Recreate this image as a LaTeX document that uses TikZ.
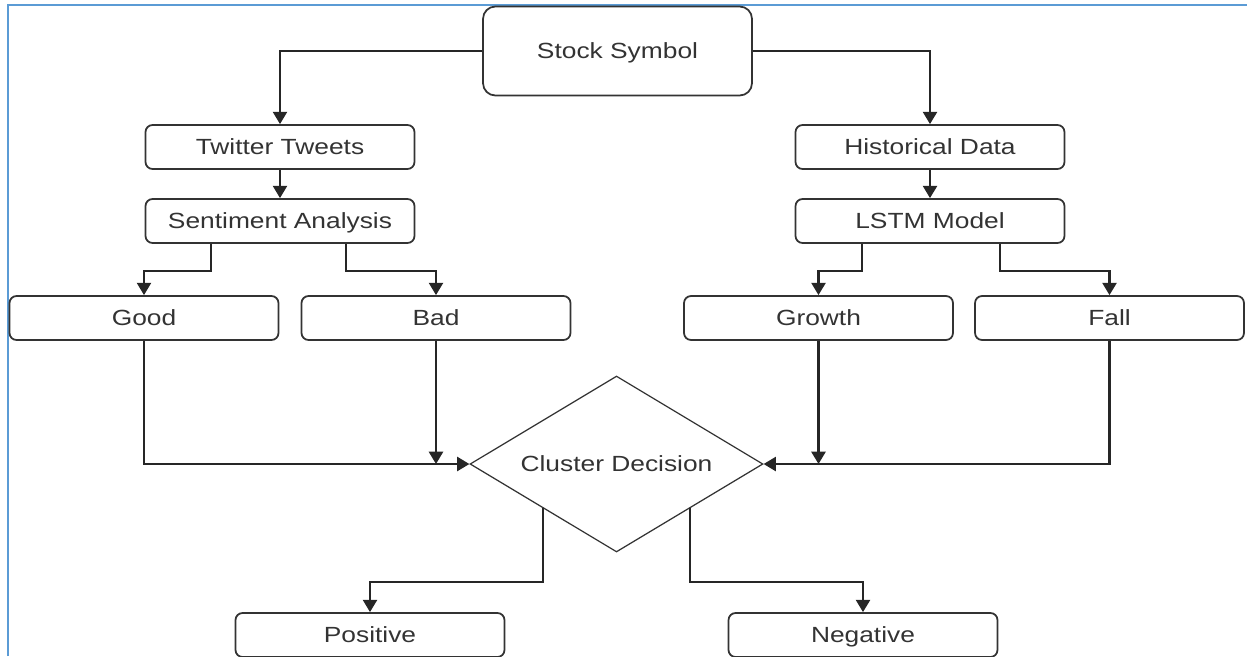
\documentclass[tikz,border=0pt]{standalone}
\usepackage{fontspec}
\setmainfont{Liberation Sans}[FakeStretch=1.2]
\usetikzlibrary{shapes.geometric,arrows.meta}
\definecolor{frameblue}{RGB}{91,155,213}
\definecolor{txtgray}{RGB}{51,51,51}

\begin{document}
\begin{tikzpicture}[x=0.02cm,y=-0.02cm,>={Triangle[length=7pt,width=8pt]},
  box/.style={draw=txtgray,line width=1pt,rounded corners=4pt,minimum width=5.38cm,
    minimum height=0.88cm,inner sep=0pt,text=txtgray,text height=9pt,text depth=0pt,
    font=\fontsize{12.5}{15}\selectfont},
  decide/.style={draw=txtgray,line width=0.7pt,diamond,aspect=1.66,minimum width=5.86cm,
    minimum height=3.52cm,inner sep=0pt,text=txtgray,text height=9pt,text depth=0pt,
    font=\fontsize{12.5}{15}\selectfont},
  link/.style={->,line width=1.3pt,black!85}]
\useasboundingbox (0,0) rectangle (1247,656);
%frame
\draw[frameblue,line width=1.6pt] (8,656) -- (8,5) -- (1247,5);

\node[box,rounded corners=7pt,minimum height=1.78cm] (sym) at (617.5,51) {Stock Symbol};
%tweets branch
\node[box] (tweets) at (280,147) {Twitter Tweets};
\node[box] (senti) at (280,221) {Sentiment Analysis};
\node[box] (good) at (144,318) {Good};
\node[box] (bad) at (436,318) {Bad};
%history branch
\node[box] (hist) at (930,147) {Historical Data};
\node[box] (lstm) at (930,221) {LSTM Model};
\node[box] (growth) at (818.5,318) {Growth};
\node[box] (fall) at (1109.5,318) {Fall};
%decision
\node[decide] (dec) at (616.5,464) {Cluster Decision};
\node[box] (pos) at (370,635) {Positive};
\node[box] (neg) at (863,635) {Negative};

\draw[link] (sym) -| (tweets);
\draw[link] (sym) -| (hist);
\draw[link] (tweets) -- (senti);
\draw[link] (hist) -- (lstm);
\draw[link] ([xshift=-1.38cm]senti.south) -- ++(0,27) -| (good.north);
\draw[link] ([xshift=1.32cm]senti.south) -- ++(0,27) -| (bad.north);
\draw[link] ([xshift=-1.36cm]lstm.south) -- ++(0,27) -| (growth.north);
\draw[link] ([xshift=1.4cm]lstm.south) -- ++(0,27) -| (fall.north);
\draw[link] (good.south) |- (dec.west);
\draw[link] (bad.south) -- (bad.south |- dec.west);
\draw[link] (growth.south) -- (growth.south |- dec.east);
\draw[link] (fall.south) |- (dec.east);
\draw[link] (dec.south west) -- ++(0,74) -| (pos.north);
\draw[link] (dec.south east) -- ++(0,74) -| (neg.north);
\end{tikzpicture}
\end{document}
